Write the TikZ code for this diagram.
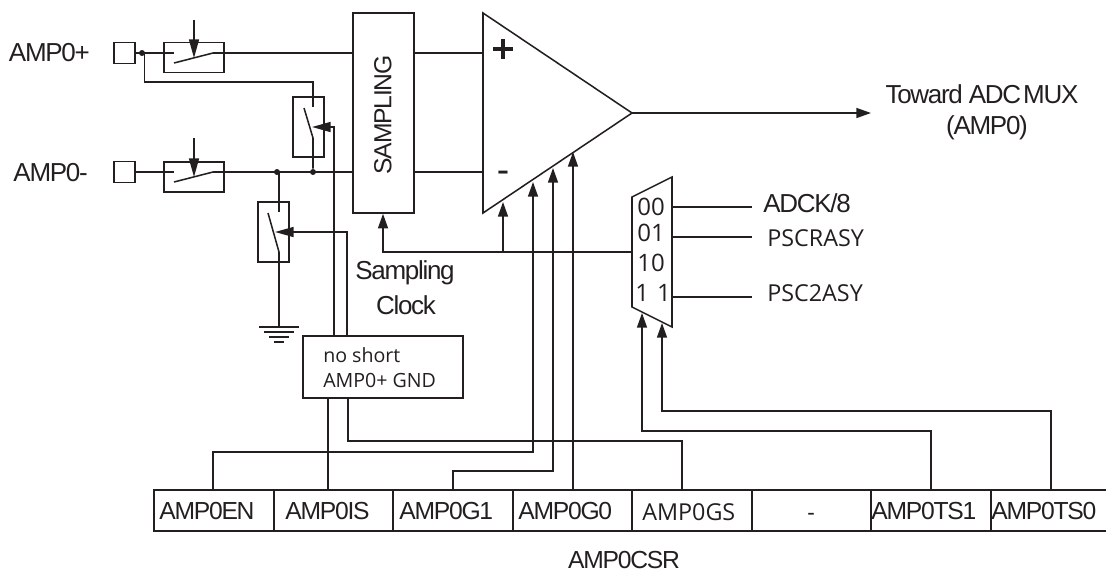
\documentclass[tikz,border=0pt]{standalone}
\usepackage{fontspec}
\setmainfont{Liberation Sans}
\newfontfamily\tightf[LetterSpace=-5]{Liberation Sans}
\newfontfamily\openf{Open Sans}
\usetikzlibrary{arrows.meta,calc}
\definecolor{ink}{HTML}{231F20}
\tikzset{
  wire/.style={draw=ink,line width=1.15pt},
  arr/.style={wire,-{Triangle[length=11pt,width=7.5pt]}},
  swarr/.style={wire,-{Triangle[length=14pt,width=7.5pt]}},
  rect/.style 2 args={draw=ink,line width=1.15pt,inner sep=0pt,minimum width=#1*0.75pt,minimum height=#2*0.75pt},
  dotn/.style={circle,fill=ink,inner sep=0pt,minimum size=4.5pt},
  lab/.style={font=\tightf\fontsize{19.5}{22}\selectfont,text=ink,inner sep=0pt},
  reglab/.style={font=\tightf\fontsize{18.5}{22}\selectfont,text=ink,inner sep=0pt},
  olab/.style={font=\openf\fontsize{14.7}{16}\selectfont,text=ink,inner sep=0pt},
  mlab/.style={font=\openf\fontsize{18}{20}\selectfont,text=ink,inner sep=0pt},
  plab/.style={font=\openf\fontsize{17.5}{20}\selectfont,text=ink,inner sep=0pt},
}
\begin{document}
\begin{tikzpicture}[x=0.75pt,y=-0.75pt]
\useasboundingbox (0,0) rectangle (1106,572);
% pads
\node[rect={21}{21}] (padp) at (124.5,53) {};
\node[rect={21}{21}] (padm) at (124.5,172) {};
\node[lab,anchor=east] (lp) at (90,53) {AMP0+};
\node[lab,anchor=east] (lm) at (88,173) {AMP0-};
% switches
\node[rect={60}{30}] (sw1) at (194,57.7) {};
\node[rect={60}{30}] (sw2) at (194,177) {};
\node[rect={31}{60}] (sw3) at (308.5,127) {};
\node[rect={31}{60}] (sw4) at (273.5,232) {};
% sampling
\node[rect={61}{200}] (samp) at (383.5,113) {};
\node[reglab,rotate=90] (samptext) at (383,115) {SAMPLING};
% amp
\coordinate (ampa) at (483,13);
\coordinate (ampb) at (632,113);
\coordinate (ampc) at (483,213);
\draw[wire,line join=miter] (ampa) -- (ampb) -- (ampc) -- cycle;
\draw[ink,line width=2.6pt] (493,49) -- (513,49) (503,39) -- (503,59);
\node[font=\fontsize{28}{28}\selectfont,text=ink,inner sep=0pt] (minus) at (503,177) {-};
% register
\node[rect={120}{41}] (r0) at (214,510.5) {};
\node[rect={119}{41}] (r1) at (333.5,510.5) {};
\node[rect={120}{41}] (r2) at (453,510.5) {};
\node[rect={119}{41}] (r3) at (572.5,510.5) {};
\node[rect={120}{41}] (r4) at (692,510.5) {};
\node[rect={119}{41}] (r5) at (811.5,510.5) {};
\node[rect={120}{41}] (r6) at (931,510.5) {};
\draw[wire] (991,490) -- (1106,490) (991,531) -- (1106,531);
\node[reglab,anchor=west] (t0) at (159,511) {AMP0EN};
\node[reglab,anchor=west] (t1) at (285,511) {AMP0IS};
\node[reglab,anchor=west] (t2) at (399,511) {AMP0G1};
\node[reglab,anchor=west] (t3) at (518,511) {AMP0G0};
\node[plab,anchor=west] (t4) at (642,512) {AMP0GS};
\node[plab] (t5) at (811,517) {-};
\node[reglab,anchor=west] (t6) at (871,511) {AMP0TS1};
\node[reglab,anchor=west] (t7) at (991,511) {AMP0TS0};
\node[reglab] (csr) at (624,560) {AMP0CSR};
% control box
\node[rect={160}{62}] (ctl) at (383,367) {};
\node[olab,anchor=west] (c1) at (323,355) {no short};
\node[olab,anchor=west] (c2) at (323,380) {AMP0+ GND};
% mux
\coordinate (mtl) at (632,197);
\coordinate (mtr) at (672,177);
\coordinate (mbr) at (672,327);
\coordinate (mbl) at (632,307);
\draw[wire,line join=miter] (mtl) -- (mtr) -- (mbr) -- (mbl) -- cycle;
\node[mlab] (m0) at (651,207) {00};
\node[mlab] (m1) at (651,233) {01};
\node[mlab] (m2) at (651,263) {10};
\node[mlab] (m3) at (653,293) {1\,\,1};
\coordinate (mi0) at (672,207);
\coordinate (mi1) at (672,237);
\coordinate (mi3) at (672,297);
\coordinate (mo) at (632,252);
\node[lab,anchor=west] (adck) at (763,203) {ADCK/8};
\node[plab,anchor=west] (psc1) at (767,238) {PSCRASY};
\node[plab,anchor=west] (psc2) at (767,293) {PSC2ASY};
\draw[wire] (mi0) -- (752,207);
\draw[wire] (mi1) -- (752,237);
\draw[wire] (mi3) -- (752,297);
% labels
\node[lab] (tw) at (982,94) {Toward ADC\hspace{0.08em}MUX};
\node[lab] (tw2) at (987,128) {(AMP0)};
\node[lab] (sc1) at (405,273) {Sampling};
\node[lab] (sc2) at (406,305) {Clock};
% input wires
\coordinate (j1) at (142,53);
\node[dotn] (dot1) at (j1) {};
\node[dotn] (dot2) at (277,172) {};
\node[dotn] (dot3) at (313,172) {};
\draw[wire] (padp.east) -- (174,53);
\draw[wire] (174,63) -- (213,53) -- (samp.west |- 0,53);
\draw[wire] (padm.east) -- (174,172);
\draw[wire] (174,182) -- (213,172) -- (samp.west |- 0,172);
\draw[wire] (samp.east |- 0,53) -- (483,53);
\draw[wire] (samp.east |- 0,172) -- (483,172);
% switch control arrows
\coordinate (a1) at (194,20);
\coordinate (a2) at (194,138);
\draw[swarr] (a1) -- (194,58);
\draw[swarr] (a2) -- (194,177);
% cross link
\draw[wire] (dot1) -- (144.3,53) -- (144.3,82) -- (313,82) -- (313,107);
\draw[wire] (304,108) -- (313,138) -- (dot3);
\draw[wire] (dot2) -- (279,172) -- (279,212);
\draw[wire] (268,213) -- (279,252) -- (279,327);
% ground
\coordinate (gnd) at (279,327);
\draw[wire] ($(gnd)+(-20,0)$) -- ($(gnd)+(20,0)$);
\draw[wire] ($(gnd)+(-15,5)$) -- ($(gnd)+(15,5)$);
\draw[wire] ($(gnd)+(-10,10)$) -- ($(gnd)+(10,10)$);
\draw[wire] ($(gnd)+(-5,15)$) -- ($(gnd)+(5,15)$);
% control box wires
\draw[swarr] (ctl.north -| 334,0) -- (334,127) -- (312,127);
\draw[swarr] (ctl.north -| 347,0) -- (347,232) -- (275,232);
\draw[wire] (ctl.south -| 328,0) -- (r1.north -| 328,0);
\draw[wire] (ctl.south -| 348,0) -- (348,441) -- (682,441) -- (r4.north -| 682,0);
% output
\coordinate (outend) at (871,113);
\draw[arr] (ampb) -- (outend);
% clock
\draw[arr] (mo) -- (383,252) -- (samp.south -| 383,0);
\draw[arr] (503,252) -- (503,202);
% gain wires
\draw[arr] (r0.north -| 213,0) -- (213,452) -- (533,452) -- (533,182);
\draw[arr] (r2.north -| 453,0) -- (453,471) -- (553,471) -- (553,168);
\draw[arr] (r3.north -| 573,0) -- (573,152);
% mux select
\draw[arr] (r6.north -| 931,0) -- (931,431) -- (642,431) -- (642,313);
\draw[arr] (1051,490) -- (1051,411) -- (662,411) -- (662,323);
\end{tikzpicture}
\end{document}
